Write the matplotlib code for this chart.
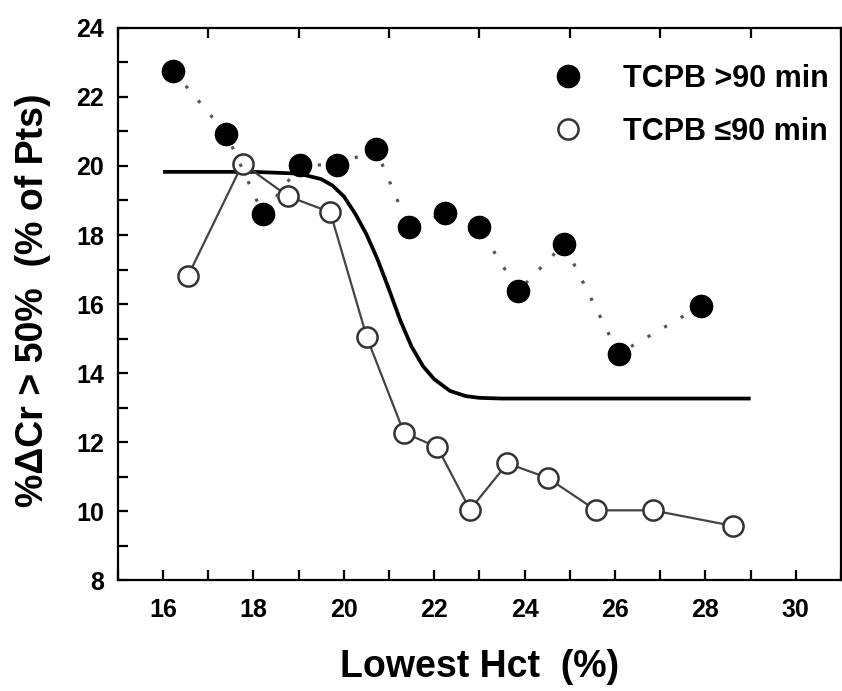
import matplotlib
matplotlib.use("Agg")
import matplotlib.pyplot as plt
from matplotlib.lines import Line2D
from matplotlib.ticker import MultipleLocator, FixedLocator
from matplotlib import font_manager

plt.rcParams['font.family'] = ['Liberation Sans', 'DejaVu Sans']
plt.rcParams['font.weight'] = 'bold'

names = {f.name for f in font_manager.fontManager.ttflist}
tick_family = ['Liberation Sans Narrow', 'Liberation Sans'] if 'Liberation Sans Narrow' in names else ['Liberation Sans']
tick_size = 20 if 'Liberation Sans Narrow' in names else 18

# Filled circles: TCPB > 90 min
long_x = [16.23, 17.40, 18.21, 19.04, 19.85, 20.71, 21.44, 22.23, 22.99, 23.86, 24.87, 26.08, 27.90]
long_y = [22.75, 20.93, 18.61, 20.03, 20.03, 20.48, 18.22, 18.63, 18.22, 16.38, 17.74, 14.56, 15.94]

# Open circles: TCPB <= 90 min
short_x = [16.55, 17.76, 18.77, 19.70, 20.51, 21.33, 22.07, 22.79, 23.62, 24.51, 25.58, 26.83, 28.61]
short_y = [16.81, 20.07, 19.12, 18.66, 15.03, 12.27, 11.85, 10.04, 11.38, 10.96, 10.02, 10.02, 9.57]

# Fitted sigmoid curve
fit_x = [16.0, 18.0, 19.0, 19.5, 19.75, 20.0, 20.25, 20.5, 20.75, 21.0, 21.25, 21.5, 21.75,
         22.0, 22.35, 22.7, 23.0, 23.5, 24.5, 29.0]
fit_y = [19.83, 19.83, 19.78, 19.62, 19.43, 19.12, 18.62, 18.02, 17.28, 16.42, 15.52, 14.76, 14.2,
         13.82, 13.48, 13.33, 13.28, 13.26, 13.26, 13.26]

legend_labels = ['TCPB >90 min', 'TCPB \u226490 min']
x_ticks = [16, 18, 20, 22, 24, 26, 28, 30]
y_ticks = [8, 10, 12, 14, 16, 18, 20, 22, 24]

fig = plt.figure(figsize=(8.42, 6.91), dpi=100)
ax = fig.add_axes([0.140, 0.1606, 0.8588, 0.7989])

ax.plot(fit_x, fit_y, color='black', lw=2.7, solid_capstyle='butt', zorder=2)
ax.plot(short_x, short_y, color='#444444', lw=1.6, marker='o', ms=14.5, mfc='white',
        mec='#333333', mew=1.8, zorder=3)
ax.plot(long_x, long_y, color='#555555', lw=2.3, linestyle=(0, (1, 5)), zorder=3)
ax.plot(long_x, long_y, ls='none', marker='o', ms=16, mfc='black', mec='black', zorder=4)

ax.set_xlim(15, 31)
ax.set_ylim(8, 24)
ax.xaxis.set_major_locator(FixedLocator(x_ticks))
ax.xaxis.set_minor_locator(MultipleLocator(2, offset=1))
ax.yaxis.set_major_locator(FixedLocator(y_ticks))
ax.yaxis.set_minor_locator(MultipleLocator(1))

for s in ax.spines.values():
    s.set_linewidth(1.6)

ax.tick_params(axis='x', which='major', direction='in', length=7, width=1.6, top=False,
               bottom=True, pad=13)
ax.tick_params(axis='x', which='minor', direction='in', length=7, width=1.6, top=True,
               bottom=True)
ax.tick_params(axis='y', which='both', direction='in', length=7, width=1.6, left=True,
               right=False, pad=10)
for lab in ax.get_xticklabels() + ax.get_yticklabels():
    lab.set_fontweight('bold')
    lab.set_family(tick_family)
    lab.set_fontsize(tick_size)

ax.set_xlabel('Lowest Hct  (%)', fontsize=27, fontweight='bold', va='center')
ax.xaxis.set_label_coords(0.5, -0.157)
ax.set_ylabel('%\u0394Cr > 50%  (% of Pts)', fontsize=27, fontweight='bold', va='center')
ax.yaxis.set_label_coords(-0.117, 0.507)

handles = [Line2D([], [], ls='none', marker='o', ms=16, mfc='black', mec='black'),
           Line2D([], [], ls='none', marker='o', ms=14.5, mfc='white', mec='#333333', mew=1.8)]
ax.legend(handles, legend_labels, loc='upper left', bbox_to_anchor=(0.6055, 0.935),
          frameon=False, handlelength=0.8, handletextpad=1.4, labelspacing=0.745,
          borderpad=0, borderaxespad=0, prop={'size': 22, 'weight': 'bold'})

fig.savefig('out.png', dpi=100)
